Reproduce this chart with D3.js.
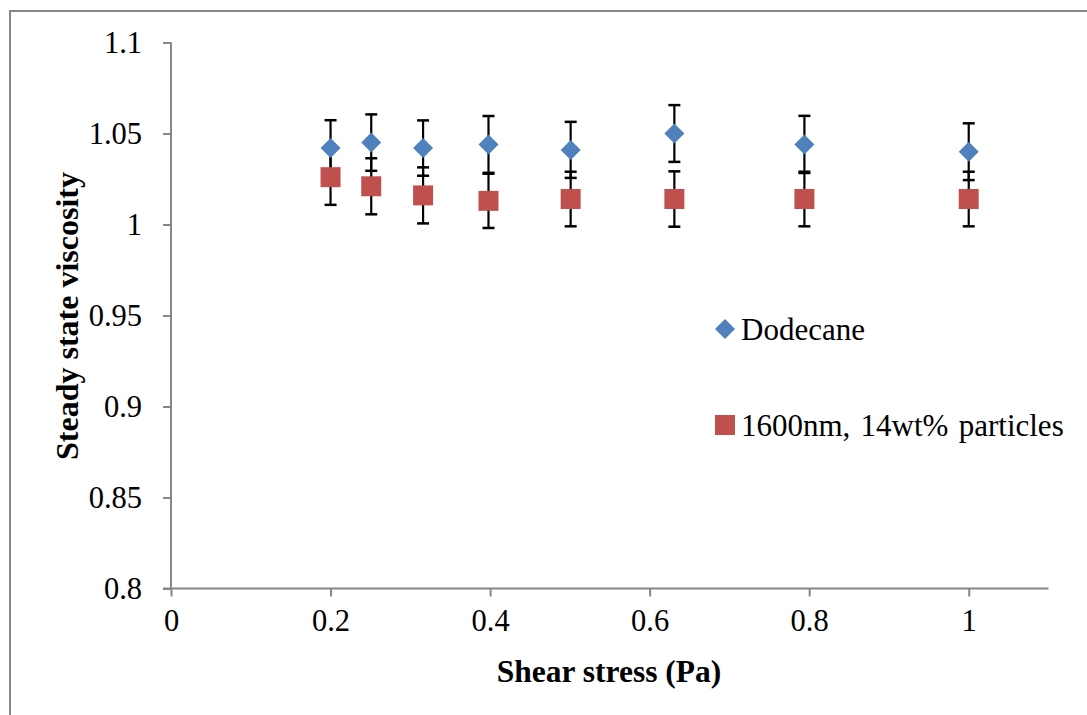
<!DOCTYPE html>
<html>
<head>
<meta charset="utf-8">
<script src="https://cdn.jsdelivr.net/npm/d3@7"></script>
<style>
  html, body { margin: 0; padding: 0; background: #fff; }
  svg { display: block; font-family: "Liberation Serif", "Times New Roman", serif; }
</style>
</head>
<body>
<svg id="chart" width="1087" height="715"></svg>
<script>
// Shear stress (Pa)
const shearStress = [0.2, 0.251, 0.316, 0.398, 0.501, 0.631, 0.794, 1.0];

// Steady state viscosity and error bars
const dodecane = [1.042, 1.045, 1.042, 1.044, 1.041, 1.050, 1.044, 1.040];
const dodecaneErr = [0.0153, 0.0155, 0.0152, 0.0156, 0.0154, 0.0156, 0.0157, 0.0156];
const particles = [1.026, 1.021, 1.016, 1.013, 1.014, 1.014, 1.014, 1.014];
const particlesErr = [0.0152, 0.0154, 0.0154, 0.0149, 0.0150, 0.0152, 0.0150, 0.0150];

const seriesNames = ["Dodecane", "1600nm, 14wt% particles"];
const xTicks = [0, 0.2, 0.4, 0.6, 0.8, 1];
const yTicks = [0.8, 0.85, 0.9, 0.95, 1, 1.05, 1.1];

const colors = { blue: "#4F81BD", red: "#C0504D", axis: "#868686" };

const svg = d3.select("#chart");

// outer chart frame
svg.append("rect")
  .attr("x", 10).attr("y", 11)
  .attr("width", 1100).attr("height", 720)
  .attr("fill", "none").attr("stroke", "#888").attr("stroke-width", 2);

const x = d3.scaleLinear().domain([0, 1.1]).range([171, 1048.5]);
const y = d3.scaleLinear().domain([0.8, 1.1]).range([588.5, 42.5]);

// y axis
const yAxis = d3.axisLeft(y).tickValues(yTicks).tickSize(8).tickPadding(21)
  .tickFormat(d => String(+d.toFixed(2)));
const gy = svg.append("g").attr("transform", `translate(${x(0)},0)`).call(yAxis);
gy.select(".domain").attr("stroke", colors.axis).attr("stroke-width", 2).attr("d", `M0,${y(1.1)}V${y(0.8)}`);
gy.selectAll(".tick line").attr("stroke", colors.axis).attr("stroke-width", 2);
gy.selectAll(".tick text").attr("font-size", 30.5).attr("fill", "#000")
  .attr("font-family", "Liberation Serif, serif");

// x axis
const xAxis = d3.axisBottom(x).tickValues(xTicks).tickSize(8).tickPadding(13)
  .tickFormat(d => String(+d.toFixed(1)));
const gx = svg.append("g").attr("transform", `translate(0,${y(0.8)})`).call(xAxis);
gx.select(".domain").attr("stroke", colors.axis).attr("stroke-width", 2).attr("d", `M${x(0) - 8},0H${x(1.1)}`);
gx.selectAll(".tick line").attr("stroke", colors.axis).attr("stroke-width", 2);
gx.selectAll(".tick text").attr("font-size", 30.5).attr("fill", "#000")
  .attr("font-family", "Liberation Serif, serif");

// axis titles
svg.append("text")
  .attr("x", 609).attr("y", 682)
  .attr("text-anchor", "middle")
  .attr("font-size", 31.5).attr("font-weight", "bold")
  .text("Shear stress (Pa)");

svg.append("text")
  .attr("transform", "translate(78,316) rotate(-90)")
  .attr("text-anchor", "middle")
  .attr("font-size", 32).attr("font-weight", "bold")
  .text("Steady state viscosity");

// error bars
function drawErrors(vals, errs) {
  const g = svg.append("g").attr("stroke", "#000").attr("stroke-width", 2.2);
  shearStress.forEach((s, i) => {
    const cx = x(s), top = y(vals[i] + errs[i]), bot = y(vals[i] - errs[i]);
    g.append("line").attr("x1", cx).attr("x2", cx).attr("y1", top).attr("y2", bot);
    g.append("line").attr("x1", cx - 6).attr("x2", cx + 6).attr("y1", top).attr("y2", top).attr("stroke-width", 2.5);
    g.append("line").attr("x1", cx - 6).attr("x2", cx + 6).attr("y1", bot).attr("y2", bot).attr("stroke-width", 2.5);
  });
}
drawErrors(dodecane, dodecaneErr);
drawErrors(particles, particlesErr);

const diamond = "M0,-10L10,0L0,10L-10,0Z";
const square = "M-10,-10H10V10H-10Z";

svg.append("g").selectAll("path").data(shearStress).join("path")
  .attr("d", diamond)
  .attr("transform", (d, i) => `translate(${x(d)},${y(dodecane[i])})`)
  .attr("fill", colors.blue);

svg.append("g").selectAll("path").data(shearStress).join("path")
  .attr("d", square)
  .attr("transform", (d, i) => `translate(${x(d)},${y(particles[i])})`)
  .attr("fill", colors.red);

// legend
const legend = svg.append("g");
legend.append("path").attr("d", diamond).attr("transform", "translate(725,329)").attr("fill", colors.blue);
legend.append("text").attr("x", 741).attr("y", 340).attr("font-size", 31).text(seriesNames[0]);
legend.append("path").attr("d", square).attr("transform", "translate(725,425)").attr("fill", colors.red);
legend.append("text").attr("x", 741).attr("y", 436).attr("font-size", 31).attr("word-spacing", 2.5).text(seriesNames[1]);
</script>
</body>
</html>
